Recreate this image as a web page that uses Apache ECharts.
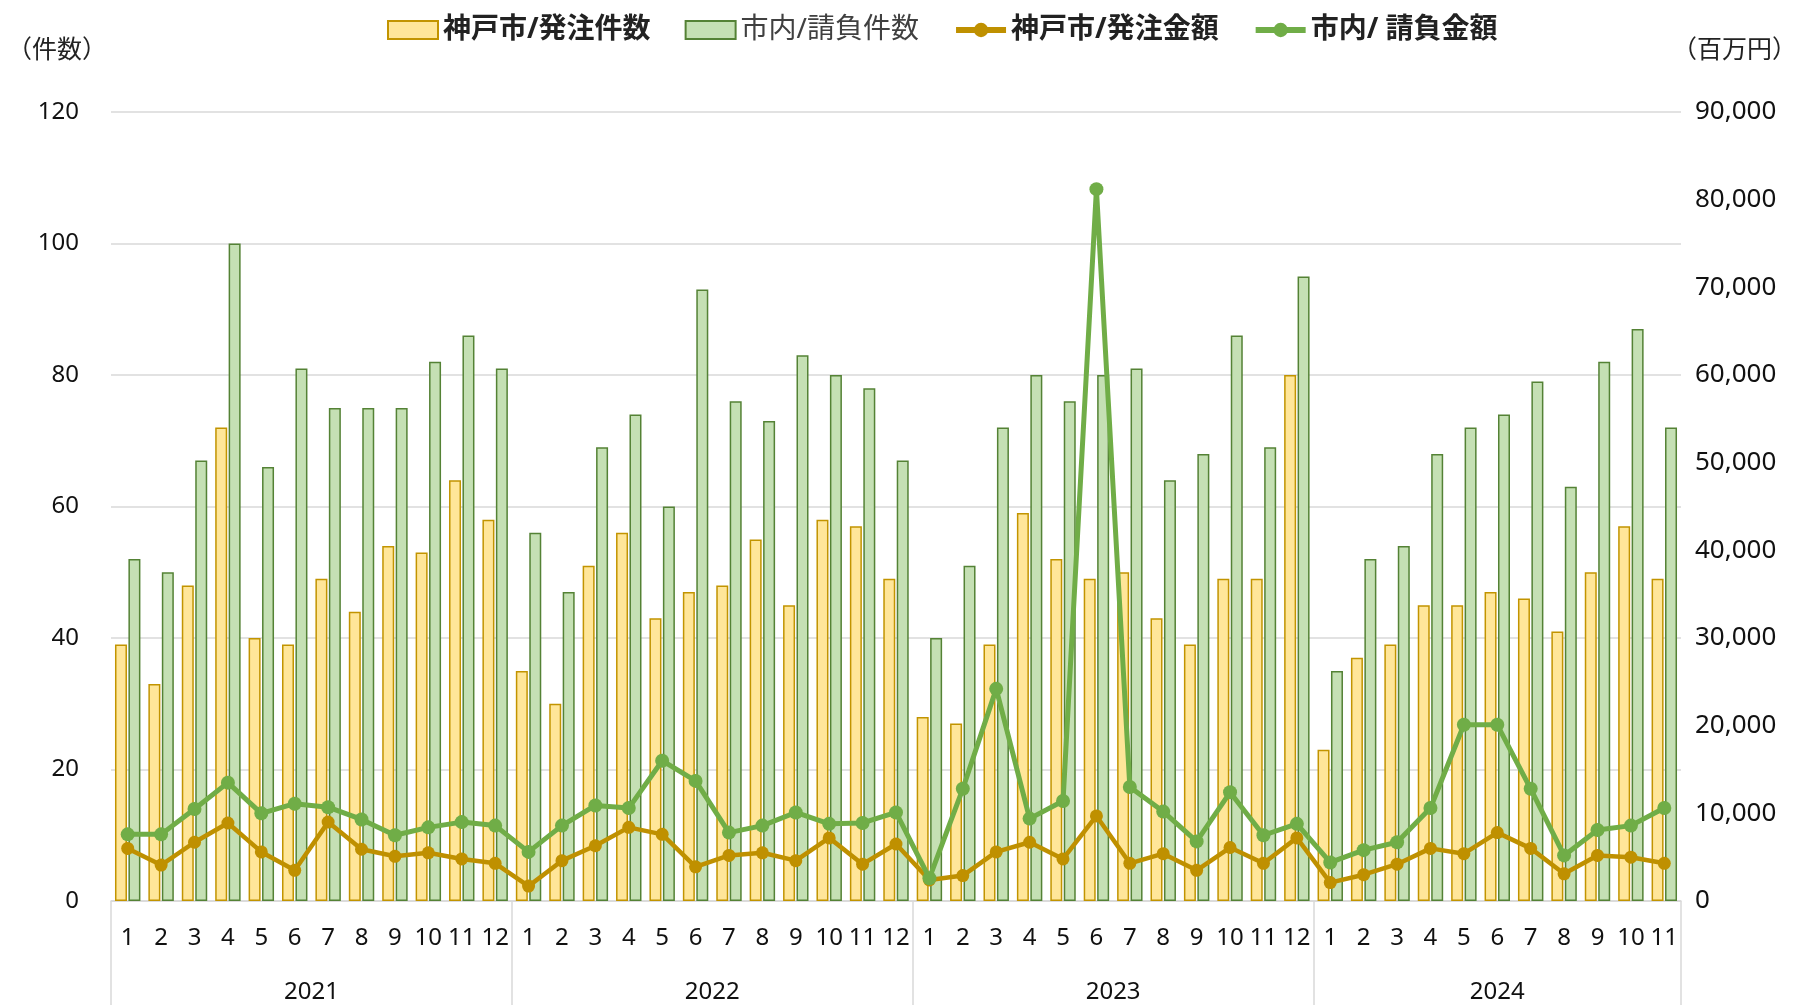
<!DOCTYPE html>
<html>
<head>
<meta charset="utf-8">
<script src="https://cdn.jsdelivr.net/npm/echarts@6/dist/echarts.min.js"></script>
<style>
  html, body { margin: 0; padding: 0; background: #fff; }
  #chart { width: 1798px; height: 1005px; }
</style>
</head>
<body>
<div id="chart"></div>
<script>
// 年・月のカテゴリ
const years = ['2021', '2022', '2023', '2024']
const monthsPerYear = [12, 12, 12, 11]
const monthLabels = [
  '1', '2', '3', '4', '5', '6', '7', '8', '9', '10', '11', '12',
  '1', '2', '3', '4', '5', '6', '7', '8', '9', '10', '11', '12',
  '1', '2', '3', '4', '5', '6', '7', '8', '9', '10', '11', '12',
  '1', '2', '3', '4', '5', '6', '7', '8', '9', '10', '11'
]

// 件数（左軸）
const kobeCount = [
  39, 33, 48, 72, 40, 39, 49, 44, 54, 53, 64, 58,
  35, 30, 51, 56, 43, 47, 48, 55, 45, 58, 57, 49,
  28, 27, 39, 59, 52, 49, 50, 43, 39, 49, 49, 80,
  23, 37, 39, 45, 45, 47, 46, 41, 50, 57, 49
]
const cityCount = [
  52, 50, 67, 100, 66, 81, 75, 75, 75, 82, 86, 81,
  56, 47, 69, 74, 60, 93, 76, 73, 83, 80, 78, 67,
  40, 51, 72, 80, 76, 80, 81, 64, 68, 86, 69, 95,
  35, 52, 54, 68, 72, 74, 79, 63, 82, 87, 72
]

// 金額（右軸・百万円）
const kobeAmount = [
  6000, 4100, 6700, 8900, 5600, 3500, 9000, 5900, 5100, 5500, 4800, 4300,
  1700, 4600, 6300, 8400, 7600, 3900, 5200, 5500, 4600, 7200, 4200, 6500,
  2400, 2900, 5600, 6700, 4800, 9700, 4300, 5400, 3500, 6100, 4300, 7200,
  2100, 3000, 4200, 6000, 5400, 7800, 6000, 3100, 5200, 5000, 4300
]
const cityAmount = [
  7600, 7600, 10500, 13500, 10000, 11100, 10700, 9300, 7500, 8400, 9000, 8600,
  5600, 8600, 10900, 10600, 16000, 13700, 7800, 8600, 10100, 8800, 8900, 10100,
  2600, 12800, 24200, 9400, 11400, 81200, 13000, 10200, 6800, 12400, 7500, 8800,
  4400, 5800, 6700, 10600, 20100, 20100, 12800, 5200, 8100, 8600, 10600
]

// 軸の目盛
const leftMax = 120
const leftStep = 20
const rightMax = 90000
const rightStep = 10000

// カテゴリは「年-月」で一意にしておく
const categories = []
years.forEach((y, i) => {
  const start = monthsPerYear.slice(0, i).reduce((a, b) => a + b, 0)
  for (let m = 0; m < monthsPerYear[i]; m++) categories.push(y + '-' + monthLabels[start + m])
})

// 年の軸：半月刻みの点で、境界に区切り線・中央に年ラベル
const totalMonths = monthsPerYear.reduce((a, b) => a + b, 0)
const halfPoints = []
const yearAtHalf = {}
const boundaryHalf = {}
let s = 0
years.forEach((y, i) => {
  boundaryHalf[2 * s] = true
  yearAtHalf[2 * s + monthsPerYear[i]] = y
  s += monthsPerYear[i]
})
boundaryHalf[2 * totalMonths] = true
for (let k = 0; k <= 2 * totalMonths; k++) halfPoints.push('h' + k)

const font = '"Noto Sans", "Noto Sans CJK JP", sans-serif'
const gridColor = '#d9d9d9'
const gold = '#bf9000'
const green = '#70ad47'

const chart = echarts.init(document.getElementById('chart'))
const option = {
  backgroundColor: '#fff',
  animation: false,
  textStyle: { fontFamily: font },
  title: [
    { text: '（件数）', left: 2, top: 33, textStyle: { fontSize: 25, fontWeight: 'normal', color: '#222', fontFamily: font } },
    { text: '（百万円）', right: -4, top: 33, textStyle: { fontSize: 25, fontWeight: 'normal', color: '#222', fontFamily: font } }
  ],
  legend: {
    left: 382,
    top: 11,
    itemWidth: 50,
    itemHeight: 18,
    itemGap: 34,
    textStyle: { fontSize: 28, color: '#222', fontWeight: 'bold', fontFamily: font },
    data: [
      { name: '神戸市/発注件数', icon: 'rect' },
      { name: '市内/請負件数', icon: 'rect', textStyle: { fontWeight: 'normal', color: '#404040' } },
      { name: '神戸市/発注金額', lineStyle: { color: gold, width: 6 }, itemStyle: { color: gold } },
      { name: '市内/ 請負金額', lineStyle: { color: green, width: 6 }, itemStyle: { color: green } }
    ]
  },
  grid: { left: 111, right: 117, top: 112, bottom: 104 },
  xAxis: [
    {
      type: 'category',
      data: categories,
      axisLine: { lineStyle: { color: gridColor, width: 1.5 } },
      axisTick: { show: false },
      axisLabel: {
        interval: 0,
        margin: 25,
        fontSize: 24,
        color: '#111',
        formatter: (v) => v.split('-')[1]
      }
    },
    {
      type: 'category',
      position: 'bottom',
      boundaryGap: false,
      data: halfPoints,
      axisLine: { show: false },
      axisTick: {
        show: true,
        length: 110,
        interval: (i) => !!boundaryHalf[i],
        lineStyle: { color: gridColor, width: 1.5 }
      },
      axisLabel: {
        interval: (i) => !!yearAtHalf[i],
        margin: 79,
        fontSize: 24,
        color: '#111',
        formatter: (v, i) => yearAtHalf[i] || ''
      },
      splitLine: { show: false }
    }
  ],
  yAxis: [
    {
      type: 'value',
      min: 0,
      max: leftMax,
      interval: leftStep,
      axisLine: { show: false },
      axisTick: { show: false },
      axisLabel: { margin: 32, fontSize: 24, color: '#111' },
      splitLine: { lineStyle: { color: gridColor, width: 1.5 } }
    },
    {
      type: 'value',
      min: 0,
      max: rightMax,
      interval: rightStep,
      axisLine: { show: false },
      axisTick: { show: false },
      axisLabel: {
        margin: 14,
        fontSize: 26,
        color: '#111',
        formatter: (v) => v.toLocaleString('en-US')
      },
      splitLine: { show: false }
    }
  ],
  series: [
    {
      name: '神戸市/発注件数',
      type: 'bar',
      data: kobeCount,
      barWidth: 12,
      barGap: '12%',
      itemStyle: { color: '#ffe699', borderColor: '#c29400', borderWidth: 1.5 }
    },
    {
      name: '市内/請負件数',
      type: 'bar',
      data: cityCount,
      barWidth: 12,
      barGap: '12%',
      itemStyle: { color: '#c5e0b4', borderColor: '#548235', borderWidth: 1.5 }
    },
    {
      name: '神戸市/発注金額',
      type: 'line',
      yAxisIndex: 1,
      data: kobeAmount,
      symbol: 'circle',
      symbolSize: 13,
      z: 5,
      lineStyle: { color: gold, width: 4.5 },
      itemStyle: { color: gold }
    },
    {
      name: '市内/ 請負金額',
      type: 'line',
      yAxisIndex: 1,
      data: cityAmount,
      symbol: 'circle',
      symbolSize: 14,
      z: 6,
      lineStyle: { color: green, width: 5 },
      itemStyle: { color: green }
    }
  ]
}
chart.setOption(option)
</script>
</body>
</html>
